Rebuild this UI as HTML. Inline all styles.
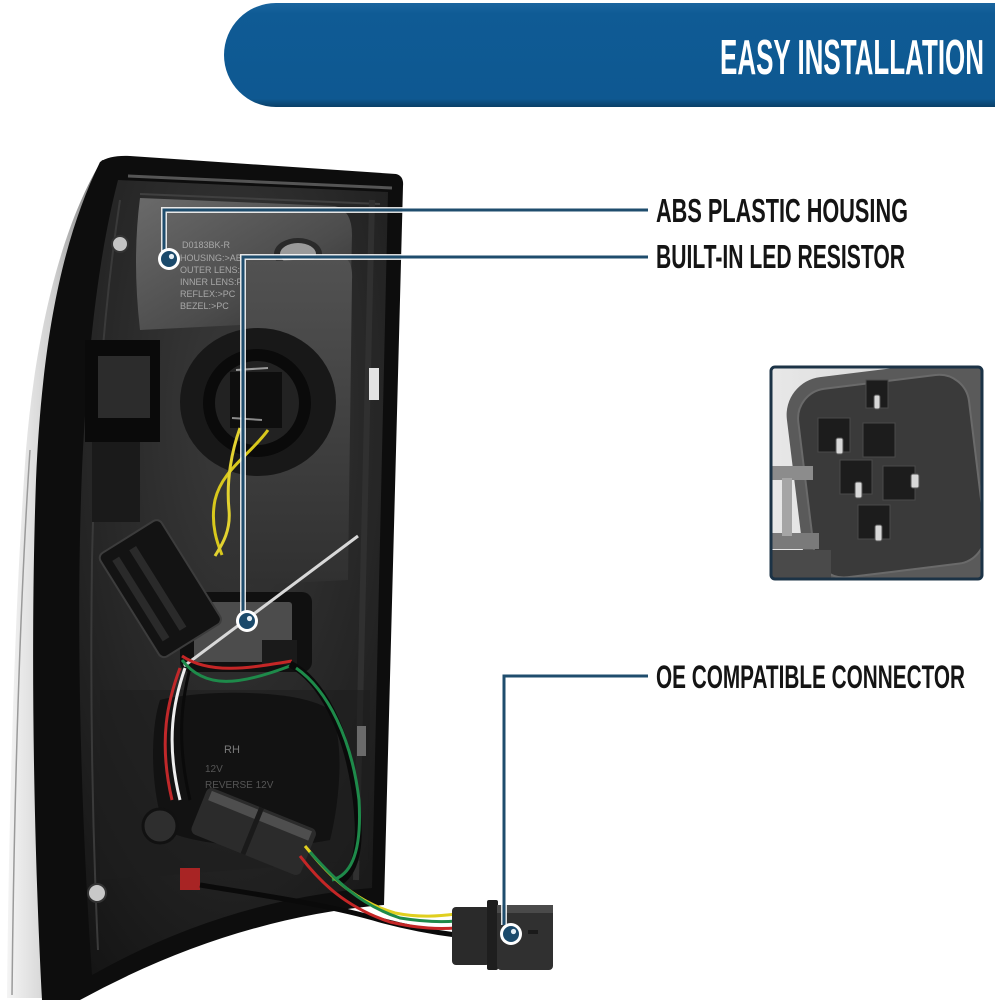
<!DOCTYPE html>
<html><head><meta charset="utf-8">
<style>
html,body{margin:0;padding:0;background:#fff;}
svg{display:block;}
text{font-family:"Liberation Sans",sans-serif;}
</style></head><body>
<svg width="995" height="1000" viewBox="0 0 995 1000" xmlns="http://www.w3.org/2000/svg">
<defs>
 <linearGradient id="lens" x1="0" x2="1" y1="0" y2="0">
  <stop offset="0" stop-color="#f4f4f4"/><stop offset="0.45" stop-color="#cfcfcf"/><stop offset="1" stop-color="#5a5a5a"/>
 </linearGradient>
 <radialGradient id="panel" cx="0.5" cy="0.3" r="0.85">
   <stop offset="0" stop-color="#3a3a3a"/><stop offset="0.55" stop-color="#262626"/><stop offset="1" stop-color="#141414"/>
 </radialGradient>
 <linearGradient id="plate" x1="0" y1="0" x2="1" y2="1">
   <stop offset="0" stop-color="#6a6a6a"/><stop offset="0.6" stop-color="#4c4c4c"/><stop offset="1" stop-color="#2e2e2e"/>
 </linearGradient>
 <linearGradient id="cplate" x1="0" y1="0" x2="0" y2="1">
   <stop offset="0" stop-color="#525252"/><stop offset="1" stop-color="#303030"/>
 </linearGradient>
 <linearGradient id="hdr" x1="0" y1="0" x2="0" y2="1">
   <stop offset="0" stop-color="#1a659f"/><stop offset="0.1" stop-color="#0f5b95"/><stop offset="0.92" stop-color="#0e5891"/><stop offset="1" stop-color="#0a3f68"/>
 </linearGradient>
 <linearGradient id="inbg" x1="0" y1="0" x2="1" y2="0">
   <stop offset="0" stop-color="#e8e8e8"/><stop offset="1" stop-color="#cfcfcf"/>
 </linearGradient>
 <clipPath id="inclip"><rect x="772" y="368" width="209" height="210" rx="3"/></clipPath>
</defs>

<!-- Header bar -->
<path d="M276,3 H995 V107 H276 A52,52 0 0 1 276,3 Z" fill="url(#hdr)"/>
<text x="720" y="74" font-size="49" font-weight="bold" fill="#fff" textLength="264" lengthAdjust="spacingAndGlyphs">EASY INSTALLATION</text>

<!-- Lens strip -->
<path d="M102,160 C62,225 36,330 26,450 C15,600 9,800 7,998 L50,998 C42,800 38,600 42,450 C48,330 68,230 112,160 Z" fill="url(#lens)"/>
<path d="M30,450 C20,600 14,800 12,995" stroke="#9a9a9a" stroke-width="1.5" fill="none"/>

<!-- Body -->
<path d="M100,162 Q110,155 130,156 L396,174 Q404,176 403,186 L384,905 Q230,918 80,1000 L42,1000 C34,850 30,650 36,480 C42,340 62,240 100,162 Z" fill="#0d0d0d"/>
<!-- inner panel -->
<path d="M118,180 L388,192 L372,888 Q225,900 92,975 C80,800 76,620 82,470 C88,340 100,250 118,180 Z" fill="url(#panel)"/>
<path d="M128,176 L392,188" stroke="#555" stroke-width="3"/>
<path d="M140,194 L380,204" stroke="#404040" stroke-width="2"/>
<path d="M120,200 C105,300 95,420 92,560 C90,700 92,820 98,950" stroke="#3a3a3a" stroke-width="2" fill="none"/>
<path d="M372,200 L356,880" stroke="#303030" stroke-width="6" fill="none"/>

<!-- upper plate with text -->
<path d="M140,198 L335,206 Q352,210 352,235 L350,320 L240,325 L140,330 Q132,260 140,198 Z" fill="url(#plate)"/>
<ellipse cx="298" cy="254" rx="24" ry="16" fill="#2a2a2a"/>
<ellipse cx="298" cy="254" rx="18" ry="11" fill="#9a9a9a"/>
<g font-family="Liberation Mono,monospace" font-size="9" fill="#a8a8a8">
<text x="182" y="248">D0183BK-R</text>
<text x="180" y="261">HOUSING:&gt;AB</text>
<text x="180" y="273">OUTER LENS:PMMA</text>
<text x="180" y="285">INNER LENS:PC</text>
<text x="180" y="297">REFLEX:&gt;PC</text>
<text x="180" y="309">BEZEL:&gt;PC</text>
</g>
<!-- central plate -->
<path d="M240,262 L345,258 Q353,262 352,280 L348,580 L244,585 Z" fill="url(#cplate)"/>

<!-- socket -->
<ellipse cx="258" cy="402" rx="78" ry="74" fill="#181818"/>
<circle cx="257" cy="403" r="54" fill="#0a0a0a"/>
<circle cx="257" cy="403" r="42" fill="#222"/>
<rect x="230" y="372" width="52" height="56" fill="#0e0e0e"/>
<line x1="236" y1="370" x2="268" y2="368" stroke="#9a9a9a" stroke-width="2"/>
<line x1="232" y1="418" x2="262" y2="420" stroke="#8a8a8a" stroke-width="2"/>

<!-- left clip -->
<rect x="85" y="340" width="75" height="102" fill="#0a0a0a"/>
<rect x="98" y="356" width="52" height="62" fill="#2c2c2c"/>
<rect x="92" y="442" width="48" height="80" fill="#1a1a1a"/>

<!-- right clips -->
<rect x="369" y="368" width="10" height="32" fill="#e2e2e2"/>
<rect x="357" y="726" width="9" height="30" fill="#dcdcdc"/>

<!-- screws -->
<circle cx="120" cy="244" r="8" fill="#c4c4c4" stroke="#333" stroke-width="2"/>
<circle cx="97" cy="893" r="9" fill="#c8c8c8" stroke="#333" stroke-width="2"/>

<!-- recess -->
<rect x="180" y="592" width="132" height="80" rx="10" fill="#101010"/>
<rect x="194" y="602" width="98" height="60" rx="3" fill="#4c4c4c"/>
<rect x="262" y="640" width="35" height="25" fill="#1a1a1a"/>

<!-- left connector -->
<g transform="rotate(-32 160 590)">
 <rect x="125" y="528" width="72" height="122" rx="6" fill="#131313" stroke="#3c3c3c" stroke-width="2"/>
 <rect x="135" y="540" width="8" height="95" fill="#2a2a2a"/>
 <rect x="155" y="540" width="8" height="95" fill="#2a2a2a"/>
</g>

<!-- yellow wires -->
<path d="M268,430 C250,455 222,470 215,500 C210,525 218,545 222,555" stroke="#d8c81c" stroke-width="3" fill="none"/>
<path d="M240,428 C232,450 226,480 229,510 C231,532 221,546 215,556" stroke="#e2d230" stroke-width="3" fill="none"/>

<!-- lower region -->
<path d="M100,690 L370,690 L368,860 L100,880 Z" fill="#1e1e1e" opacity="0.6"/>
<path d="M160,700 C200,690 300,688 330,710 C345,740 340,800 330,840 C280,850 200,848 165,830 C150,790 150,730 160,700 Z" fill="#121212"/>
<text x="224" y="753" font-size="11" fill="#7a7a7a">RH</text>
<text x="205" y="772" font-size="10" fill="#555">12V</text>
<text x="205" y="788" font-size="10" fill="#555">REVERSE 12V</text>
<circle cx="160" cy="826" r="17" fill="#2e2e2e" stroke="#111" stroke-width="3"/>

<!-- white tie -->
<line x1="184" y1="666" x2="358" y2="536" stroke="#d8d8d8" stroke-width="3"/>

<!-- wires red/white/black -->
<path d="M180,668 C168,700 158,740 172,800" stroke="#c0282a" stroke-width="3" fill="none"/>
<path d="M185,668 C174,700 165,740 180,800" stroke="#eeeeee" stroke-width="3" fill="none"/>
<path d="M190,668 C182,700 176,740 190,800" stroke="#0a0a0a" stroke-width="3" fill="none"/>
<path d="M182,660 C205,690 240,685 290,666" stroke="#1e8a4a" stroke-width="3" fill="none"/>
<path d="M182,656 C210,675 250,668 292,661" stroke="#c42626" stroke-width="3" fill="none"/>
<path d="M290,664 C322,680 346,730 355,790 C362,840 358,870 340,882" stroke="#0a0a0a" stroke-width="7" fill="none"/>
<path d="M296,668 C328,690 352,740 359,800 C362,850 352,875 332,880" stroke="#1e8a4a" stroke-width="3" fill="none"/>

<!-- lower connector -->
<g transform="rotate(22 250 830)">
 <rect x="195" y="805" width="118" height="50" rx="6" fill="#2b2b2b"/>
 <rect x="200" y="808" width="108" height="10" fill="#4e4e4e"/>
 <rect x="250" y="805" width="5" height="50" fill="#1a1a1a"/>
</g>
<rect x="180" y="868" width="20" height="22" fill="#a82424"/>

<!-- bottom harness -->
<path d="M200,885 C260,895 330,905 380,920 C410,928 440,933 456,935" stroke="#0a0a0a" stroke-width="5" fill="none"/>
<path d="M305,846 C325,870 350,900 395,913 C420,918 440,916 456,914" stroke="#e0cf20" stroke-width="3" fill="none"/>
<path d="M310,852 C335,880 360,905 400,918 C425,922 445,922 456,921" stroke="#1e8a4a" stroke-width="3" fill="none"/>
<path d="M300,856 C320,882 345,907 390,922 C420,929 440,929 456,928" stroke="#c42626" stroke-width="3" fill="none"/>

<!-- OE connector -->
<rect x="452" y="907" width="38" height="58" rx="4" fill="#2a2a2a"/>
<rect x="487" y="900" width="11" height="70" rx="2" fill="#1e1e1e"/>
<rect x="497" y="905" width="56" height="65" rx="4" fill="#303030"/>
<rect x="497" y="905" width="56" height="8" fill="#4a4a4a"/>
<rect x="528" y="930" width="10" height="4" fill="#1a1a1a"/>

<!-- callout lines -->
<g fill="none" stroke-linejoin="miter">
 <path d="M648,210 H164 V252" stroke="#ffffff" stroke-width="6" opacity="0.85"/>
 <path d="M648,257 H243 V612" stroke="#ffffff" stroke-width="6" opacity="0.85"/>
 <path d="M648,676 H504 V925" stroke="#ffffff" stroke-width="6" opacity="0.85"/>
 <path d="M648,210 H164 V252" stroke="#1f4d6d" stroke-width="3"/>
 <path d="M648,257 H243 V612" stroke="#1f4d6d" stroke-width="3"/>
 <path d="M648,676 H504 V925" stroke="#1f4d6d" stroke-width="3"/>
</g>
<g>
 <circle cx="169" cy="259" r="11" fill="#fff"/><circle cx="169" cy="259" r="8" fill="#1b4a6b"/><circle cx="171.5" cy="256.5" r="2.6" fill="#e4eef5"/>
 <circle cx="247" cy="621" r="11" fill="#fff"/><circle cx="247" cy="621" r="8" fill="#1b4a6b"/><circle cx="249.5" cy="618.5" r="2.6" fill="#e4eef5"/>
 <circle cx="511" cy="934" r="11" fill="#fff"/><circle cx="511" cy="934" r="8" fill="#1b4a6b"/><circle cx="513.5" cy="931.5" r="2.6" fill="#e4eef5"/>
</g>

<!-- labels -->
<text x="656" y="222" font-size="33" font-weight="bold" fill="#141414" textLength="252" lengthAdjust="spacingAndGlyphs">ABS PLASTIC HOUSING</text>
<text x="656" y="268" font-size="33" font-weight="bold" fill="#141414" textLength="249" lengthAdjust="spacingAndGlyphs">BUILT-IN LED RESISTOR</text>
<text x="656" y="688" font-size="32" font-weight="bold" fill="#141414" textLength="309" lengthAdjust="spacingAndGlyphs">OE COMPATIBLE CONNECTOR</text>

<!-- inset -->
<g clip-path="url(#inclip)">
 <rect x="770" y="366" width="214" height="214" fill="url(#inbg)"/>
 <g transform="rotate(-7 885 480)">
  <rect x="795" y="370" width="220" height="240" rx="38" fill="#5a5a5a"/>
  <rect x="806" y="382" width="172" height="190" rx="30" fill="#3a3a3a" stroke="#6a6a6a" stroke-width="2"/>
 </g>
 <rect x="771" y="466" width="42" height="14" fill="#8c8c8c"/>
 <rect x="771" y="533" width="48" height="16" fill="#7a7a7a"/>
 <rect x="782" y="478" width="10" height="58" fill="#a5a5a5"/>
 <rect x="771" y="550" width="60" height="30" fill="#4a4a4a"/>
 <g fill="#1c1c1c" stroke="#4a4a4a" stroke-width="1">
  <rect x="866" y="380" width="22" height="28"/>
  <rect x="818" y="418" width="32" height="34"/>
  <rect x="863" y="423" width="32" height="34"/>
  <rect x="840" y="460" width="32" height="34"/>
  <rect x="883" y="466" width="32" height="34"/>
  <rect x="858" y="505" width="32" height="34"/>
 </g>
 <g fill="#d8d8d8" stroke="#555" stroke-width="1">
  <rect x="874" y="395" width="6" height="14" rx="2"/>
  <rect x="836" y="438" width="7" height="16" rx="2"/>
  <rect x="855" y="482" width="7" height="16" rx="2"/>
  <rect x="911" y="474" width="8" height="14" rx="2"/>
  <rect x="875" y="525" width="7" height="16" rx="2"/>
 </g>
</g>
<rect x="771" y="367" width="211" height="212" rx="4" fill="none" stroke="#1c3346" stroke-width="3"/>
</svg>
</body></html>
